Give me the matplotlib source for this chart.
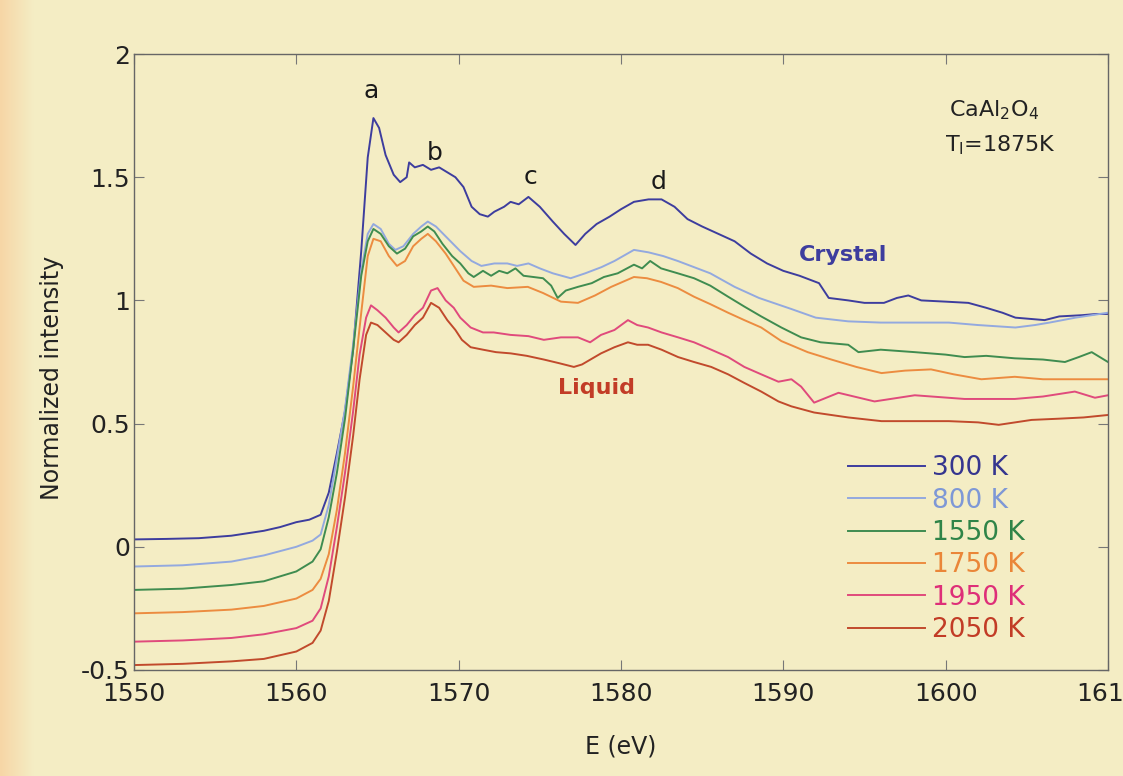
import numpy as np
import matplotlib.pyplot as plt
from matplotlib.colors import LinearSegmentedColormap
from matplotlib.lines import Line2D

plt.rcParams['font.family'] = ['DejaVu Sans']

# energies (eV) and normalized intensities
e_300 = [1550, 1552, 1554, 1556, 1558, 1559, 1560, 1560.8, 1561.5, 1562, 1562.5, 1563, 1563.5, 1564, 1564.4,
         1564.75, 1565.1, 1565.5, 1566, 1566.4, 1566.8, 1566.95, 1567.3, 1567.8, 1568.3, 1568.8, 1569.3, 1569.8,
         1570.3, 1570.8, 1571.3, 1571.8, 1572.2, 1572.8, 1573.2, 1573.7, 1574.3, 1575, 1575.8, 1576.5, 1577.2,
         1577.8, 1578.5, 1579.3, 1580, 1580.8, 1581.7, 1582.5, 1583.3, 1584.1, 1585, 1586, 1587, 1588, 1589, 1590,
         1591, 1592.2, 1592.8, 1594, 1595, 1596.2, 1597, 1597.7, 1598.5, 1600, 1601.4, 1602.5, 1603.5, 1604.3,
         1605.2, 1606.1, 1607, 1608.4, 1609.3, 1610]
i_300 = [0.030, 0.032, 0.035, 0.045, 0.065, 0.08, 0.10, 0.11, 0.13, 0.22, 0.38, 0.55, 0.80, 1.20, 1.58,
         1.74, 1.70, 1.59, 1.51, 1.48, 1.50, 1.56, 1.54, 1.55, 1.53, 1.54, 1.52, 1.50,
         1.46, 1.38, 1.35, 1.34, 1.36, 1.38, 1.40, 1.39, 1.42, 1.38, 1.32, 1.27, 1.225,
         1.27, 1.31, 1.34, 1.37, 1.40, 1.41, 1.41, 1.38, 1.33, 1.30, 1.27, 1.24, 1.19, 1.15, 1.12,
         1.10, 1.07, 1.01, 1.00, 0.99, 0.99, 1.01, 1.02, 1.00, 0.995, 0.99, 0.97, 0.95, 0.93,
         0.925, 0.92, 0.935, 0.94, 0.945, 0.945]

e_800 = [1550, 1553, 1556, 1558, 1560, 1561, 1561.5, 1562, 1562.5, 1563, 1563.5, 1564, 1564.4, 1564.75, 1565.2,
         1565.7, 1566.1, 1566.6, 1567.2, 1567.7, 1568.1, 1568.6, 1569.2, 1569.8, 1570.1, 1570.8, 1571.4, 1572.2,
         1573, 1573.6, 1574.3, 1575, 1575.8, 1576.9, 1577.8, 1578.8, 1579.6, 1580.8, 1581.7, 1582.6, 1583.5,
         1584.5, 1585.5, 1587, 1588.5, 1590.5, 1592, 1594, 1596, 1598, 1600.2, 1602, 1604.3, 1605.5, 1606.4,
         1608, 1610]
i_800 = [-0.08, -0.075, -0.06, -0.035, 0.0, 0.025, 0.05, 0.17, 0.36, 0.56, 0.82, 1.12, 1.27, 1.31, 1.29,
         1.23, 1.205, 1.22, 1.27, 1.30, 1.32, 1.30, 1.26, 1.22, 1.20, 1.16, 1.14, 1.15,
         1.15, 1.14, 1.15, 1.13, 1.11, 1.09, 1.11, 1.135, 1.16, 1.205, 1.195, 1.18, 1.16,
         1.135, 1.11, 1.055, 1.01, 0.965, 0.93, 0.915, 0.91, 0.91, 0.91, 0.90, 0.89, 0.90, 0.91,
         0.93, 0.95]

e_1550 = [1550, 1553, 1556, 1558, 1560, 1561, 1561.5, 1562, 1562.5, 1563, 1563.5, 1564, 1564.4, 1564.75,
          1565.2, 1565.7, 1566.2, 1566.7, 1567.2, 1567.7, 1568.1, 1568.5, 1569, 1569.6, 1570.1, 1570.6,
          1570.93, 1571.5, 1572, 1572.5, 1573, 1573.5, 1574, 1574.6, 1575.2, 1575.7, 1576.1, 1576.6, 1577.35,
          1578.2, 1578.95, 1579.8, 1580.8, 1581.3, 1581.8, 1582.47, 1583.5, 1584.5, 1585.5, 1586.6, 1587.6,
          1588.64, 1589.88, 1591.1, 1592.3, 1594.0, 1594.63, 1596, 1598.1, 1600, 1601.17, 1602.5, 1604.26,
          1606, 1607.35, 1608.2, 1609, 1610]
i_1550 = [-0.175, -0.17, -0.155, -0.14, -0.10, -0.06, -0.01, 0.12, 0.30, 0.52, 0.80, 1.10, 1.24, 1.29,
          1.27, 1.22, 1.19, 1.21, 1.26, 1.28, 1.30, 1.28, 1.23, 1.18, 1.15, 1.11,
          1.095, 1.12, 1.10, 1.12, 1.11, 1.13, 1.10, 1.095, 1.09, 1.06, 1.01, 1.04, 1.055,
          1.07, 1.095, 1.11, 1.145, 1.13, 1.16, 1.13, 1.11, 1.09, 1.06, 1.015, 0.975,
          0.935, 0.89, 0.85, 0.83, 0.82, 0.79, 0.80, 0.79, 0.78, 0.77, 0.775, 0.765,
          0.76, 0.75, 0.77, 0.79, 0.75]

e_1750 = [1550, 1553, 1556, 1558, 1560, 1561, 1561.5, 1562, 1562.5, 1563, 1563.5, 1564, 1564.4, 1564.75,
          1565.2, 1565.7, 1566.2, 1566.7, 1567.2, 1567.7, 1568.1, 1568.6, 1569.2, 1569.8, 1570.3, 1570.93,
          1572, 1573, 1574.26, 1575.2, 1576.3, 1577.35, 1578.4, 1579.4, 1580.8, 1581.6, 1582.47, 1583.5,
          1584.5, 1585.5, 1586.6, 1587.6, 1588.64, 1589.88, 1591.5, 1592.96, 1594.5, 1596.05, 1597.5, 1599.1,
          1600.5, 1602.2, 1604.26, 1606, 1607.35, 1610]
i_1750 = [-0.27, -0.265, -0.255, -0.24, -0.21, -0.175, -0.13, -0.03, 0.15, 0.38, 0.65, 0.95, 1.18, 1.25,
          1.24, 1.18, 1.14, 1.16, 1.22, 1.25, 1.27, 1.24, 1.19, 1.13, 1.08, 1.055,
          1.06, 1.05, 1.055, 1.03, 0.995, 0.99, 1.02, 1.055, 1.095, 1.09, 1.075, 1.05,
          1.015, 0.985, 0.95, 0.92, 0.89, 0.835, 0.79, 0.76, 0.73, 0.705, 0.715, 0.72,
          0.70, 0.68, 0.69, 0.68, 0.68, 0.68]

e_1950 = [1550, 1553, 1556, 1558, 1560, 1561, 1561.5, 1562, 1562.5, 1563, 1563.5, 1563.9, 1564.3, 1564.6,
          1565, 1565.5, 1566, 1566.3, 1566.8, 1567.3, 1567.8, 1568.3, 1568.7, 1569.2, 1569.7, 1570.1,
          1570.74, 1571.5, 1572.16, 1573.2, 1574.3, 1575.25, 1576.3, 1577.35, 1578.1, 1578.77, 1579.6, 1580.43,
          1581, 1581.67, 1582.5, 1583.52, 1584.5, 1585.56, 1586.6, 1587.6, 1588.64, 1589.7, 1590.5, 1591.1,
          1591.9, 1593.4, 1595.62, 1598.1, 1601.17, 1604.26, 1606, 1607.96, 1609.2, 1610]
i_1950 = [-0.385, -0.38, -0.37, -0.355, -0.33, -0.30, -0.25, -0.12, 0.08, 0.30, 0.55, 0.78, 0.93, 0.98,
          0.96, 0.93, 0.89, 0.87, 0.90, 0.94, 0.97, 1.04, 1.05, 1.00, 0.97, 0.93,
          0.89, 0.87, 0.87, 0.86, 0.855, 0.84, 0.85, 0.85, 0.83, 0.86, 0.88, 0.92,
          0.90, 0.89, 0.87, 0.85, 0.83, 0.80, 0.77, 0.73, 0.70, 0.67, 0.68, 0.65,
          0.585, 0.625, 0.59, 0.615, 0.60, 0.60, 0.61, 0.63, 0.605, 0.615]

e_2050 = [1550, 1553, 1556, 1558, 1560, 1561, 1561.5, 1562, 1562.5, 1563, 1563.5, 1563.9, 1564.3, 1564.6,
          1565, 1565.5, 1566, 1566.3, 1566.8, 1567.3, 1567.8, 1568.3, 1568.8, 1569.3, 1569.8, 1570.2,
          1570.74, 1571.5, 1572.3, 1573.21, 1574.2, 1575.25, 1576.2, 1577.1, 1577.6, 1578.77, 1579.6, 1580.43,
          1581, 1581.67, 1582.5, 1583.52, 1584.5, 1585.56, 1586.6, 1587.6, 1588.64, 1589.7, 1590.5, 1591.9,
          1594, 1596.05, 1598.5, 1600.2, 1602, 1603.27, 1605.3, 1607, 1608.5, 1610]
i_2050 = [-0.48, -0.475, -0.465, -0.455, -0.425, -0.39, -0.34, -0.22, -0.02, 0.20, 0.45, 0.68, 0.86, 0.91,
          0.90, 0.87, 0.84, 0.83, 0.86, 0.90, 0.93, 0.99, 0.97, 0.92, 0.88, 0.84,
          0.81, 0.80, 0.79, 0.785, 0.775, 0.76, 0.745, 0.73, 0.74, 0.785, 0.81, 0.83,
          0.82, 0.82, 0.80, 0.77, 0.75, 0.73, 0.70, 0.665, 0.63, 0.59, 0.57, 0.545,
          0.525, 0.51, 0.51, 0.51, 0.505, 0.495, 0.515, 0.52, 0.525, 0.535]

labels = ["300 K", "800 K", "1550 K", "1750 K", "1950 K", "2050 K"]
line_colors = ["#3d3d9e", "#93a9df", "#3f8c50", "#ec8c40", "#e04a7c", "#c14a2c"]
text_colors = ["#35358f", "#7e98d6", "#2f8448", "#ea8638", "#de2f78", "#c23c26"]

peaks = ["a", "b", "c", "d"]
peak_e = [1564.6, 1568.5, 1574.4, 1582.3]
peak_y = [1.85, 1.60, 1.50, 1.48]

bg = "#f4edc4"
fig = plt.figure(figsize=(11.23, 7.76), dpi=100, facecolor=bg)

# warm strip on the left edge of the page
strip = fig.add_axes([0, 0, 0.03, 1])
strip.imshow(np.linspace(0, 1, 50)[None, :], aspect="auto", extent=[0, 1, 0, 1],
             cmap=LinearSegmentedColormap.from_list("s", ["#f7d6a6", bg]))
strip.axis("off")

ax = fig.add_axes([0.1193, 0.1366, 0.8673, 0.7938], facecolor=bg)

series = [(e_300, i_300), (e_800, i_800), (e_1550, i_1550),
          (e_1750, i_1750), (e_1950, i_1950), (e_2050, i_2050)]
for (e, i), c in zip(series, line_colors):
    ax.plot(e, i, color=c, lw=1.4)

ax.set_xlim(1550, 1610)
ax.set_ylim(-0.5, 2)
ax.set_xticks([1550, 1560, 1570, 1580, 1590, 1600, 1610])
ax.set_yticks([-0.5, 0, 0.5, 1, 1.5, 2])
ax.set_yticklabels(["-0.5", "0", "0.5", "1", "1.5", "2"])
ax.tick_params(direction="in", length=7, width=0.8, color="#777777", top=True, right=True,
               labelsize=18, labelcolor="#222222")
ax.tick_params(axis="x", pad=9)
ax.tick_params(axis="y", pad=3)
for s in ax.spines.values():
    s.set_color("#666666")
    s.set_linewidth(1.0)

ax.set_xlabel("E (eV)", fontsize=17, color="#222222", labelpad=20)
ax.set_ylabel("Normalized intensity", fontsize=17, color="#222222")
ax.yaxis.set_label_coords(-0.072, 0.475)

for p, x, y in zip(peaks, peak_e, peak_y):
    ax.text(x, y, p, fontsize=18, ha="center", va="center", color="#1a1a1a")

ax.text(1603.0, 1.77, r"CaAl$_{2}$O$_{4}$", fontsize=16, ha="center", va="center", color="#222222")
ax.text(1603.4, 1.63, r"T$_{\rm l}$=1875K", fontsize=16, ha="center", va="center", color="#222222")
ax.text(1593.7, 1.185, "Crystal", fontsize=16, ha="center", va="center", color="#3d3d9e", fontweight="bold")
ax.text(1578.5, 0.645, "Liquid", fontsize=16, ha="center", va="center", color="#c23c26", fontweight="bold")

handles = [Line2D([0], [0], color=c, lw=1.4) for c in line_colors]
leg = ax.legend(handles, labels, loc="upper left", bbox_to_anchor=(0.72, 0.37), frameon=False,
                fontsize=19, handlelength=2.9, handletextpad=0.27, labelspacing=0.24, borderpad=0)
for t, c in zip(leg.get_texts(), text_colors):
    t.set_color(c)

fig.savefig("out.png", dpi=100, facecolor=bg)
